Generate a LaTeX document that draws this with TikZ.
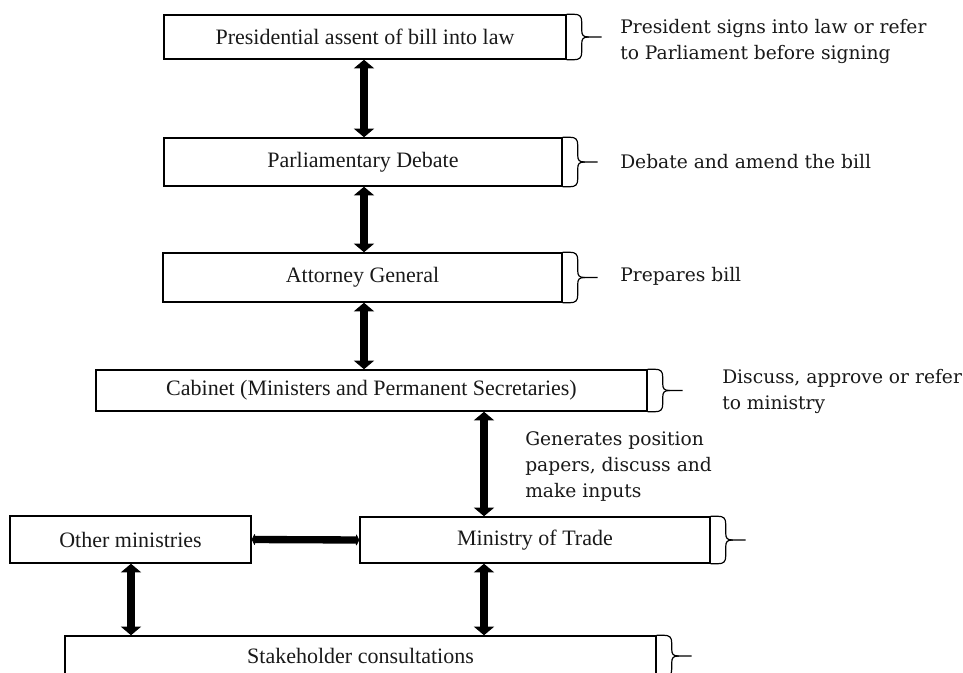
\documentclass[tikz,border=0pt]{standalone}
\usepackage{fontspec}
\setmainfont{Liberation Serif}
\newfontfamily\notefont{DejaVu Serif}
\usetikzlibrary{arrows.meta,calc}
\tikzset{
  stage/.style={draw, line width=1.1pt, inner sep=0pt, text=black!90,
    font=\fontsize{16.5}{19}\selectfont},
  note/.style={anchor=west, inner sep=0pt, align=left, text=black!90,
    font=\notefont\fontsize{14}{19.5}\selectfont},
  brc/.style={draw, line width=0.9pt},
  dbl/.style={line width=6pt, {Triangle[length=6.5pt,width=15pt]}-{Triangle[length=6.5pt,width=15pt]}},
  hdbl/.style={line width=5.5pt, {Triangle[length=2.5pt,width=10pt,round]}-{Triangle[length=2.5pt,width=10pt,round]}},
}
\newcommand\boxbrace[1]{%
  \draw[brc] (#1.north east) -- ++(7,0) .. controls +(6,0) and +(0,-6) .. ++(8,8)
    -- ($(#1.east)+(15,-7)$) .. controls +(0,5) and +(-6,0) .. ++(7,7) -- ++(13,0);
  \draw[brc] (#1.south east) -- ++(7,0) .. controls +(6,0) and +(0,6) .. ++(8,-8)
    -- ($(#1.east)+(15,7)$) .. controls +(0,-5) and +(-6,0) .. ++(7,-7);
}
\begin{document}
\begin{tikzpicture}[x=0.75pt,y=-0.75pt]
\useasboundingbox (0,0) rectangle (963,673);
\node[stage, minimum width=301.5pt, minimum height=33pt] (b1) at (365,37) {Presidential assent of bill into law};
\node[stage, minimum width=298.5pt, minimum height=36pt] (b2) at (363,162) {Parliamentary Debate};
\node[stage, minimum width=299.25pt, minimum height=36.75pt] (b3) at (362.5,277.5) {Attorney General};
\node[stage, minimum width=413.25pt, minimum height=30.75pt] (b4) at (371.5,390.5) {Cabinet (Ministers and Permanent Secretaries)};
\node[stage, minimum width=262.5pt, minimum height=34.5pt] (b5) at (535,540) {Ministry of Trade};
\node[stage, minimum width=180.75pt, minimum height=35.25pt] (b6) at (130.5,539.5) {Other ministries};
\node[stage, minimum width=443.25pt, minimum height=30pt] (b7) at (360.5,656) {Stakeholder consultations};

\boxbrace{b1}
\boxbrace{b2}
\boxbrace{b3}
\boxbrace{b4}
\boxbrace{b5}
\boxbrace{b7}

\node[note] (n1) at (620,41) {President signs into law or refer\\to Parliament before signing};
\node[note] (n2) at (620,162) {Debate and amend the bill};
\node[note] (n3) at (620,276) {Prepares bill};
\node[note] (n4) at (722,391) {Discuss, approve or refer\\to ministry};
\node[note] (n5) at (525,467) {Generates position\\papers, discuss and\\make inputs};

\coordinate (xa) at (364,0);
\coordinate (xb) at (484,0);
\coordinate (xc) at (131,0);
\draw[dbl] (xa |- b1.south) -- (xa |- b2.north);
\draw[dbl] (xa |- b2.south) -- (xa |- b3.north);
\draw[dbl] (xa |- b3.south) -- (xa |- b4.north);
\draw[dbl] (xb |- b4.south) -- (xb |- b5.north);
\draw[dbl] (xb |- b5.south) -- (xb |- b7.north);
\draw[dbl] (xc |- b6.south) -- (xc |- b7.north);
\draw[hdbl] (b6.east) -- (b5.west);
\end{tikzpicture}
\end{document}
